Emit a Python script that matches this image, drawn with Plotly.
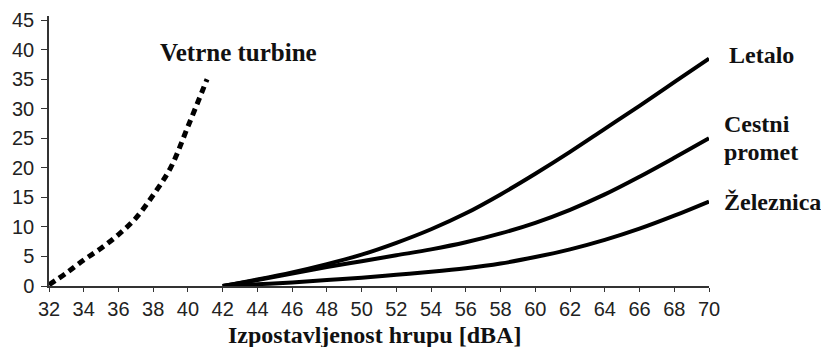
import plotly.graph_objects as go

# Data
wind_x = [32, 33, 34, 35, 36, 37, 38, 39, 40, 41.1]
wind_y = [0.2, 2.2, 4.4, 6.4, 8.7, 11.5, 15.4, 20.0, 27.0, 35.0]

traffic_x = [42, 44, 46, 48, 50, 52, 54, 56, 58, 60, 62, 64, 66, 68, 70]
aircraft_y = [0, 1.1, 2.3, 3.7, 5.3, 7.3, 9.6, 12.3, 15.5, 19.0, 22.7, 26.6, 30.5, 34.5, 38.5]
road_y = [0, 1.0, 2.1, 3.2, 4.2, 5.2, 6.2, 7.4, 8.9, 10.7, 12.9, 15.5, 18.5, 21.7, 25.0]
rail_y = [0, 0.3, 0.6, 1.0, 1.4, 1.9, 2.4, 3.0, 3.8, 4.9, 6.2, 7.8, 9.7, 11.9, 14.3]

x_ticks = list(range(32, 71, 2))
y_ticks = list(range(0, 46, 5))

label_font = dict(family="Liberation Serif, Times New Roman, serif", size=24, color="#111")
tick_font = dict(family="Liberation Sans, Arial, sans-serif", size=20, color="#222")

fig = go.Figure()
fig.add_trace(go.Scatter(x=wind_x, y=wind_y, mode="lines",
                         line=dict(color="black", width=5, dash="7px,5px", shape="spline"),
                         name="Vetrne turbine", cliponaxis=False))
for yy, nm in [(aircraft_y, "Letalo"), (road_y, "Cestni promet"), (rail_y, "Železnica")]:
    fig.add_trace(go.Scatter(x=traffic_x, y=yy, mode="lines",
                             line=dict(color="black", width=4, shape="spline"),
                             name=nm, cliponaxis=False))

fig.add_annotation(text="<b>Vetrne turbine</b>", xref="x", yref="y", x=38.3, y=39.45,
                   xanchor="left", yanchor="middle", showarrow=False,
                   font=dict(label_font, size=25))

right_labels = [
    ("<b>Letalo</b>", 1.027, 0.855),
    ("<b>Cestni</b>", 1.0197, 0.600),
    ("<b>promet</b>", 1.0197, 0.496),
    ("<b>Železnica</b>", 1.0197, 0.311),
]
for txt, px, py in right_labels:
    fig.add_annotation(text=txt, xref="paper", yref="paper", x=px, y=py,
                       xanchor="left", yanchor="middle", showarrow=False, font=label_font)

# x-axis title
fig.add_annotation(text="<b>Izpostavljenost hrupu [dBA]</b>", xref="paper", yref="paper",
                   x=0.493, y=-0.1815, xanchor="center", yanchor="middle",
                   showarrow=False, font=label_font)

# y-axis title, cut off at the top edge in the reference
fig.add_annotation(text="<b>Ogroženost [%]</b>", xref="paper", yref="paper",
                   x=-0.0485, y=1.051, xanchor="left", yanchor="bottom",
                   showarrow=False, font=label_font)

fig.update_layout(
    width=821, height=347,
    margin=dict(l=49, r=112, t=16, b=61, autoexpand=False),
    paper_bgcolor="white", plot_bgcolor="white",
    showlegend=False,
    xaxis=dict(range=[32, 70], tickvals=x_ticks, showgrid=False, zeroline=False,
               showline=True, linecolor="#333", linewidth=1.5, automargin=False,
               ticks="outside", ticklen=4, tickcolor="#333", tickwidth=1.2,
               tickfont=tick_font, ticklabelstandoff=0),
    yaxis=dict(range=[0, 45.7], tickvals=y_ticks, showgrid=False, zeroline=False,
               showline=True, linecolor="#333", linewidth=1.5, automargin=False,
               ticks="outside", ticklen=6, tickcolor="#333", tickwidth=1.2,
               tickfont=tick_font, ticklabelstandoff=3),
)

fig.write_html("out.html", config={"displayModeBar": False},
               post_script="document.body.style.margin='0';document.body.style.overflow='hidden';")
